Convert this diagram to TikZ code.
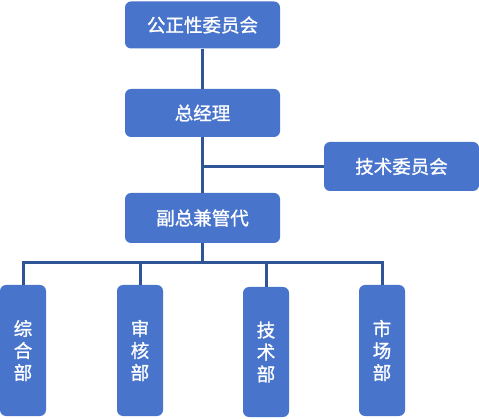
\documentclass[tikz,border=0pt]{standalone}
\usepackage{fontspec}
\newfontfamily\cjk[FakeBold=1.2]{Noto Sans CJK SC}
\definecolor{boxfill}{HTML}{4874CB}
\definecolor{linecol}{HTML}{2F5597}
\begin{document}
\begin{tikzpicture}[x=1pt,y=-1pt,
  orgbox/.style={fill=boxfill,draw=none,rounded corners=6pt,text=white,font=\cjk\fontsize{18.5}{22}\selectfont,inner sep=0pt,align=center},
  conn/.style={draw=linecol,line width=3pt}]
\useasboundingbox (0,0) rectangle (479,419);
\node[orgbox,minimum width=155pt,minimum height=47pt] (gz) at (202.5,25) {公正性委员会};
\node[orgbox,minimum width=155pt,minimum height=48pt] (zjl) at (202.5,113) {总经理};
\node[orgbox,minimum width=155pt,minimum height=49pt] (jswy) at (401.5,166.5) {技术委员会};
\node[orgbox,minimum width=155pt,minimum height=50pt] (fz) at (202.5,218) {副总兼管代};
\node[orgbox,minimum width=46pt,minimum height=131pt] (zh) at (23,350.5) {综\\合\\部};
\node[orgbox,minimum width=46pt,minimum height=131pt] (sh) at (140,350.5) {审\\核\\部};
\node[orgbox,minimum width=46pt,minimum height=130pt] (js) at (266,352) {技\\术\\部};
\node[orgbox,minimum width=46pt,minimum height=131pt] (sc) at (382,350.5) {市\\场\\部};
\coordinate (bus) at (202.5,263);
\draw[conn] (gz.south) -- (zjl.north);
\draw[conn] (zjl.south) -- (fz.north);
\draw[conn] (jswy.west) -- (jswy.west -| zjl.south);
\draw[conn] (fz.south) -- (bus);
\draw[conn] (zh.north) |- (bus) -| (sc.north);
\draw[conn] (sh.north) -- (sh.north |- bus);
\draw[conn] (js.north) -- (js.north |- bus);
\end{tikzpicture}
\end{document}
